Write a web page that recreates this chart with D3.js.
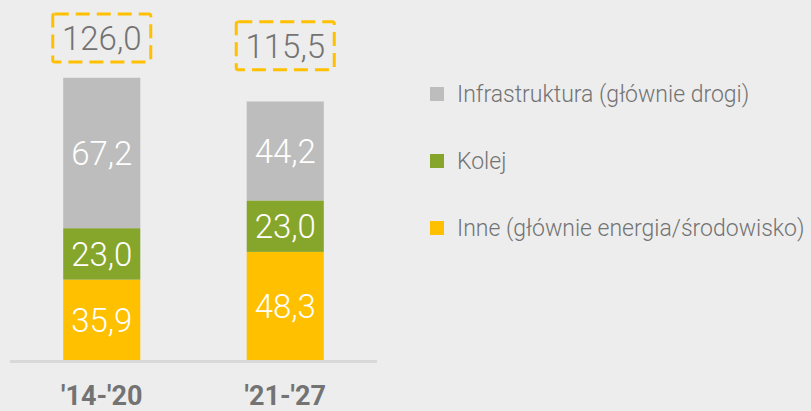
<!DOCTYPE html>
<html>
<head>
<meta charset="utf-8">
<script src="https://cdn.jsdelivr.net/npm/d3@7/dist/d3.min.js"></script>
<style>
  html, body { margin: 0; padding: 0; background: #ededed; }
  svg { display: block; }
  text { font-family: Roboto, "Noto Sans", sans-serif; }
</style>
</head>
<body>
<svg id="chart" width="811" height="411"></svg>
<script>
// EU funds allocation by programming period (stacked by category)
const periods = ["'14-'20", "'21-'27"];
const seriesNames = ["Inne (głównie energia/środowisko)", "Kolej", "Infrastruktura (głównie drogi)"];
const inne = [35.9, 48.3];
const kolej = [23.0, 23.0];
const infrastruktura = [67.2, 44.2];
const totals = [126.0, 115.5];
const legendOrder = ["Infrastruktura (głównie drogi)", "Kolej", "Inne (głównie energia/środowisko)"];

const colors = {
  "Infrastruktura (głównie drogi)": "#bcbdbc",
  "Kolej": "#86a62b",
  "Inne (głównie energia/środowisko)": "#ffc000"
};

const fmt = v => v.toFixed(1).replace(".", ",");

const rows = periods.map((p, i) => ({
  period: p,
  "Inne (głównie energia/środowisko)": inne[i],
  "Kolej": kolej[i],
  "Infrastruktura (głównie drogi)": infrastruktura[i],
  total: totals[i]
}));

const svg = d3.select("#chart");
const baseY = 360;

const x = d3.scaleBand()
  .domain(periods)
  .range([10, 377])
  .paddingInner(0.58)
  .paddingOuter(0.29);

const y = d3.scaleLinear()
  .domain([0, 126])
  .range([baseY, 78]);

const stack = d3.stack().keys(seriesNames);
const layers = stack(rows);

// stacked segments with their values
const g = svg.append("g");
layers.forEach(layer => {
  g.selectAll(null)
    .data(layer)
    .join("rect")
    .attr("x", d => x(d.data.period))
    .attr("width", x.bandwidth())
    .attr("y", d => y(d[1]))
    .attr("height", d => y(d[0]) - y(d[1]))
    .attr("fill", colors[layer.key]);

  g.selectAll(null)
    .data(layer)
    .join("text")
    .attr("x", d => x(d.data.period) + x.bandwidth() / 2)
    .attr("y", d => (y(d[0]) + y(d[1])) / 2 + 12)
    .attr("text-anchor", "middle")
    .attr("fill", "#ffffff")
    .attr("font-size", 33)
    .attr("font-weight", 300)
    .text(d => fmt(d[1] - d[0]));
});

// baseline
svg.append("line")
  .attr("x1", x.range()[0]).attr("x2", x.range()[1])
  .attr("y1", baseY + 1.5).attr("y2", baseY + 1.5)
  .attr("stroke", "#d9d9d9")
  .attr("stroke-width", 3);

// category axis
const xAxis = svg.append("g")
  .attr("transform", `translate(0,${baseY})`)
  .call(d3.axisBottom(x).tickSize(0).tickPadding(0));
xAxis.select(".domain").remove();
xAxis.selectAll("text")
  .attr("y", 45)
  .attr("dy", 0)
  .attr("fill", "#737373")
  .attr("font-size", 27)
  .attr("font-weight", 700)
  .attr("font-family", "Roboto, sans-serif");

// totals in dashed boxes above each bar
const topMost = y(d3.max(totals));
rows.forEach(r => {
  const top = y(r.total);
  const cy = top - 40 - (top - topMost) * 2 / 3;
  const cx = x(r.period) + x.bandwidth() / 2;
  svg.append("rect")
    .attr("x", cx - 49).attr("y", cy - 24)
    .attr("width", 98).attr("height", 48)
    .attr("rx", 2)
    .attr("fill", "none")
    .attr("stroke", "#ffc000")
    .attr("stroke-width", 3)
    .attr("stroke-dasharray", "14 7");
  svg.append("text")
    .attr("x", cx).attr("y", cy + 12)
    .attr("text-anchor", "middle")
    .attr("fill", "#737373")
    .attr("font-size", 33)
    .attr("font-weight", 300)
    .text(fmt(r.total));
});

// legend
const legend = svg.append("g").attr("transform", "translate(430,94)");
legendOrder.forEach((name, i) => {
  const row = legend.append("g").attr("transform", `translate(0,${i * 67})`);
  row.append("rect")
    .attr("x", 0).attr("y", -7)
    .attr("width", 14).attr("height", 14)
    .attr("fill", colors[name]);
  row.append("text")
    .attr("x", 27).attr("y", 8)
    .attr("fill", "#737373")
    .attr("font-size", 23)
    .attr("font-weight", 300)
    .text(name);
});
</script>
</body>
</html>
